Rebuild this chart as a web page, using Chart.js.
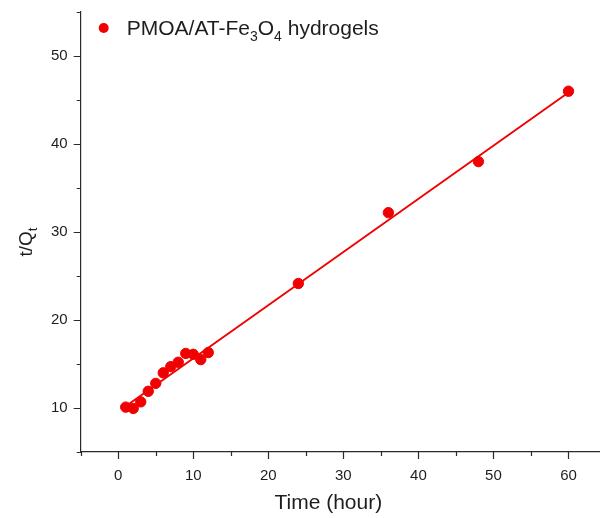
<!DOCTYPE html>
<html>
<head>
<meta charset="utf-8">
<script src="https://cdn.jsdelivr.net/npm/chart.js@4/dist/chart.umd.min.js"></script>
<style>
  html, body { margin: 0; padding: 0; background: #fff; }
  #c { display: block; }
</style>
</head>
<body>
<canvas id="c" width="600" height="518" style="width:600px;height:518px"></canvas>
<script>
// ---- data ----
const timeHours = [1, 2, 3, 4, 5, 6, 7, 8, 9, 10, 11, 12, 24, 36, 48, 60];
const tOverQt   = [10.1, 9.95, 10.7, 11.9, 12.8, 14.0, 14.7, 15.2, 16.2, 16.1, 15.5, 16.3, 24.15, 32.2, 38.0, 46.0];
const fitX = [1, 60];
const fitY = [10.2, 45.85];
const xMajorTicks = [0, 10, 20, 30, 40, 50, 60];
const xMinorTicks = [-5, 5, 15, 25, 35, 45, 55];
const yMajorTicks = [10, 20, 30, 40, 50];
const yMinorTicks = [5, 15, 25, 35, 45, 55];
const seriesName = [{t: 'PMOA/AT-Fe'}, {t: '3', sub: true}, {t: 'O'}, {t: '4', sub: true}, {t: ' hydrogels'}];
const yTitleParts = [{t: 't/Q'}, {t: 't', sub: true}];
const xTitle = 'Time (hour)';

const RED = '#f00000';
const AXIS = '#2a2a2a';
const TEXT = '#1e1e1e';
const FONT = "'Liberation Sans', Arial, sans-serif";

function drawParts(ctx, parts, x, y, size) {
  let cx = x;
  parts.forEach(p => {
    const s = p.sub ? Math.round(size * 0.68) : size;
    ctx.font = s + 'px ' + FONT;
    ctx.fillText(p.t, cx, p.sub ? y + size * 0.28 : y);
    cx += ctx.measureText(p.t).width;
  });
  return cx - x;
}
function measureParts(ctx, parts, size) {
  let w = 0;
  parts.forEach(p => {
    const s = p.sub ? Math.round(size * 0.68) : size;
    ctx.font = s + 'px ' + FONT;
    w += ctx.measureText(p.t).width;
  });
  return w;
}

const decor = {
  id: 'decor',
  afterDraw(chart) {
    const {ctx, scales: {x, y}, chartArea} = chart;
    ctx.save();
    ctx.strokeStyle = AXIS;
    ctx.lineWidth = 1.2;
    const bottom = chartArea.bottom, left = chartArea.left;
    ctx.beginPath();
    xMajorTicks.forEach(v => { const p = Math.round(x.getPixelForValue(v)) + 0.5; ctx.moveTo(p, bottom); ctx.lineTo(p, bottom + 7); });
    xMinorTicks.forEach(v => { const p = Math.round(x.getPixelForValue(v)) + 0.5; ctx.moveTo(p, bottom); ctx.lineTo(p, bottom + 4); });
    yMajorTicks.forEach(v => { const p = Math.round(y.getPixelForValue(v)) + 0.5; ctx.moveTo(left, p); ctx.lineTo(left - 7, p); });
    yMinorTicks.forEach(v => { const p = Math.round(y.getPixelForValue(v)) + 0.5; ctx.moveTo(left, p); ctx.lineTo(left - 4, p); });
    ctx.stroke();

    // y axis title with subscript
    ctx.fillStyle = TEXT;
    ctx.textBaseline = 'alphabetic';
    ctx.textAlign = 'left';
    const size = 19;
    const w = measureParts(ctx, yTitleParts, size);
    ctx.translate(32, 242);
    ctx.rotate(-Math.PI / 2);
    drawParts(ctx, yTitleParts, -w / 2, 0, size);
    ctx.restore();

    // x axis title
    ctx.save();
    ctx.fillStyle = TEXT;
    ctx.font = '21px ' + FONT;
    ctx.textAlign = 'center';
    ctx.textBaseline = 'middle';
    ctx.fillText(xTitle, x.getPixelForValue(28), 503);
    ctx.restore();

    // legend
    ctx.save();
    ctx.fillStyle = RED;
    ctx.beginPath();
    ctx.arc(left + 23, 28, 5, 0, Math.PI * 2);
    ctx.fill();
    ctx.fillStyle = TEXT;
    ctx.textBaseline = 'alphabetic';
    drawParts(ctx, seriesName, left + 46, 35, 21);
    ctx.restore();
  }
};

new Chart(document.getElementById('c'), {
  type: 'scatter',
  data: {
    datasets: [
      {
        label: 'PMOA/AT-Fe3O4 hydrogels',
        data: timeHours.map((t, i) => ({x: t, y: tOverQt[i]})),
        backgroundColor: RED,
        borderColor: RED,
        pointRadius: 5.2,
        pointHoverRadius: 5.2,
        showLine: false,
        order: 1
      },
      {
        label: 'fit',
        data: fitX.map((t, i) => ({x: t, y: fitY[i]})),
        borderColor: RED,
        backgroundColor: RED,
        borderWidth: 1.9,
        pointRadius: 0,
        showLine: true,
        order: 2
      }
    ]
  },
  options: {
    responsive: false,
    animation: false,
    devicePixelRatio: 1,
    events: [],
    layout: { autoPadding: false, padding: { top: 12, right: 0, left: 0, bottom: 0 } },
    plugins: { legend: { display: false }, tooltip: { enabled: false } },
    scales: {
      x: {
        type: 'linear',
        min: -5,
        max: 64.2,
        afterBuildTicks: s => { s.ticks = xMajorTicks.map(v => ({value: v})); },
        afterFit: s => { s.height = 66; s.paddingLeft = 0; s.paddingRight = 0; },
        grid: { display: false, drawTicks: false },
        border: { display: true, color: AXIS, width: 1.2 },
        ticks: { color: TEXT, font: { size: 15, family: FONT }, padding: 15, maxRotation: 0, autoSkip: false }
      },
      y: {
        type: 'linear',
        min: 5,
        max: 55,
        afterBuildTicks: s => { s.ticks = yMajorTicks.map(v => ({value: v})); },
        afterFit: s => { s.width = 80.7; s.paddingTop = 0; s.paddingBottom = 0; },
        grid: { display: false, drawTicks: false },
        border: { display: true, color: AXIS, width: 1.2 },
        ticks: { color: TEXT, font: { size: 15, family: FONT }, padding: 13 }
      }
    }
  },
  plugins: [decor]
});
</script>
</body>
</html>
